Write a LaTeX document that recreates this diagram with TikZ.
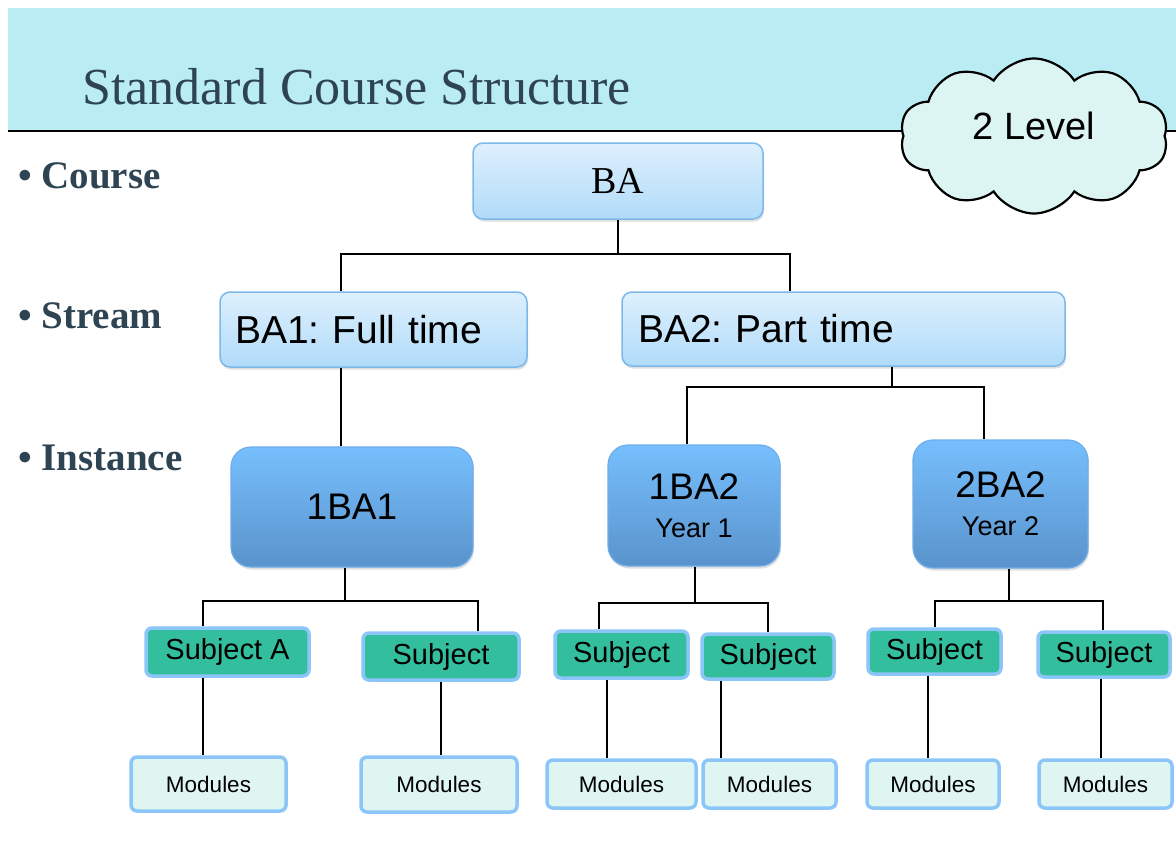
\documentclass[tikz,border=0pt]{standalone}
\usepackage{fontspec}
\setmainfont{Liberation Serif}
\newfontfamily\arialfont{Liberation Sans}
\frenchspacing
\usetikzlibrary{shapes.symbols}
\usetikzlibrary{shadows}
\usetikzlibrary{positioning}

\definecolor{bandcol}{HTML}{BAECF3}
\definecolor{headcol}{HTML}{2E4453}
\definecolor{crstop}{HTML}{DEF0FD}
\definecolor{crsbot}{HTML}{B0DBF9}
\definecolor{crsline}{HTML}{7DB8EA}
\definecolor{insttop}{HTML}{76BFFD}
\definecolor{instbot}{HTML}{5A93CC}
\definecolor{instline}{HTML}{6EADEA}
\definecolor{subjfill}{HTML}{33BF9E}
\definecolor{lightline}{HTML}{8CC6F8}
\definecolor{modfill}{HTML}{DFF5F2}
\definecolor{cloudfill}{HTML}{DCF5F2}

\begin{document}
\begin{tikzpicture}[x=1pt,y=-1pt,
  shade/.style={drop shadow={opacity=0.25,shadow xshift=1pt,shadow yshift=-2.5pt}},
  course/.style={shade,draw=crsline,line width=1.5,rounded corners=10,top color=crstop,bottom color=crsbot},
  inst/.style={shade,draw=instline,line width=1.2,rounded corners=20,top color=insttop,bottom color=instbot,align=center,font=\arialfont\fontsize{37}{38}\selectfont},
  subj/.style={draw=lightline,line width=3.5,fill=subjfill,rounded corners=6,inner sep=0,font=\arialfont\fontsize{29}{32}\selectfont},
  mods/.style={draw=lightline,line width=3.5,fill=modfill,rounded corners=6,inner sep=0,font=\arialfont\fontsize{22.5}{26}\selectfont},
  lvl/.style={anchor=base west,text=headcol,font=\bfseries\fontsize{39}{42}\selectfont},
  link/.style={draw=black,line width=1.2}]
\useasboundingbox (0,0) rectangle (1176,841);

% header
\fill[bandcol] (8,8) rectangle (1176,131);
\draw[line width=1.2] (8,131) -- (1176,131);
\node[anchor=base west,text=headcol,font=\fontsize{52}{60}\selectfont,inner sep=0] (title) at (82,104) {Standard Course Structure};
\node[cloud,cloud puffs=10,cloud puff arc=115,aspect=1.75,draw,line width=2.2,fill=cloudfill,
  minimum width=268,minimum height=155,text height=27,text depth=20,
  font=\arialfont\fontsize{38}{42}\selectfont] (cloud) at (1034,136) {2 Level};

% levels
\node[lvl,inner sep=0] (course) at (18,188) {• Course};
\node[lvl,inner sep=0] (stream) at (18,328) {• Stream};
\node[lvl,inner sep=0] (instance) at (18,470) {• Instance};

% course and streams
\node[course,minimum width=290,minimum height=76,font=\fontsize{38}{42}\selectfont] (ba) at (618,181) {BA};
\node[course,text width=277,inner xsep=15,minimum height=75,align=left,font=\arialfont\fontsize{39}{42}\selectfont] (ba1) at (373.5,329.5) {BA1: Full time};
\node[course,text width=411,inner xsep=16,minimum height=74,align=left,font=\arialfont\fontsize{39}{42}\selectfont] (ba2) at (843.5,329) {BA2: Part time};

% instances
\node[inst,minimum width=242,minimum height=120] (i1) at (352,507) {1BA1};
\node[inst,minimum width=172,minimum height=121] (i2) at (694,505.5) {1BA2\\\fontsize{27}{38}\selectfont Year 1};
\node[inst,minimum width=175,minimum height=128] (i3) at (1000.5,504) {2BA2\\\fontsize{27}{38}\selectfont Year 2};

% subjects
\node[subj,minimum width=163,minimum height=48] (s1) at (227.5,652) {Subject A};
\node[subj,minimum width=156,minimum height=47] (s2) at (441,656.5) {Subject};
\node[subj,minimum width=133,minimum height=47] (s3) at (621.5,654.5) {Subject};
\node[subj,minimum width=132,minimum height=45] (s4) at (768,656.5) {Subject};
\node[subj,minimum width=133,minimum height=45] (s5) at (934.5,651.5) {Subject};
\node[subj,minimum width=132,minimum height=45] (s6) at (1104,654.5) {Subject};

% modules
\node[mods,minimum width=155,minimum height=54] (m1) at (208.5,784) {Modules};
\node[mods,minimum width=156,minimum height=55] (m2) at (439,784.5) {Modules};
\node[mods,minimum width=149,minimum height=48] (m3) at (621.5,784) {Modules};
\node[mods,minimum width=133,minimum height=48] (m4) at (769.5,784) {Modules};
\node[mods,minimum width=132,minimum height=48] (m5) at (933,784) {Modules};
\node[mods,minimum width=133,minimum height=48] (m6) at (1105.5,784) {Modules};

% connectors
\coordinate (b1) at (341,254);
\coordinate (b2) at (790,254);
\draw[link] (ba.south) -- (ba.south |- b1);
\draw[link] (b1 |- ba1.north) -- (b1) -- (b2) -- (b2 |- ba2.north);
\draw[link] (b1 |- ba1.south) -- (b1 |- i1.north);

\coordinate (c1) at (687,387);
\coordinate (c2) at (984,387);
\draw[link] (892,0 |- ba2.south) -- (892,387);
\draw[link] (c1 |- i2.north) -- (c1) -- (c2) -- (c2 |- i3.north);

\foreach \i/\l/\r/\y/\sl/\sr/\sx in {i1/s1/s2/601/203/478/345, i2/s3/s4/603/599/768/695, i3/s5/s6/601/935/1103/1009}{
  \draw[link] (\sx,0 |- \i.south) -- (\sx,\y);
  \draw[link] (\sl,0 |- \l.north) -- (\sl,\y) -- (\sr,\y) -- (\sr,0 |- \r.north);
}

\foreach \s/\m/\x in {s1/m1/203, s2/m2/441, s3/m3/607, s4/m4/721, s5/m5/928, s6/m6/1101}
  \draw[link] (\x,0 |- \s.south) -- (\x,0 |- \m.north);
\end{tikzpicture}
\end{document}
